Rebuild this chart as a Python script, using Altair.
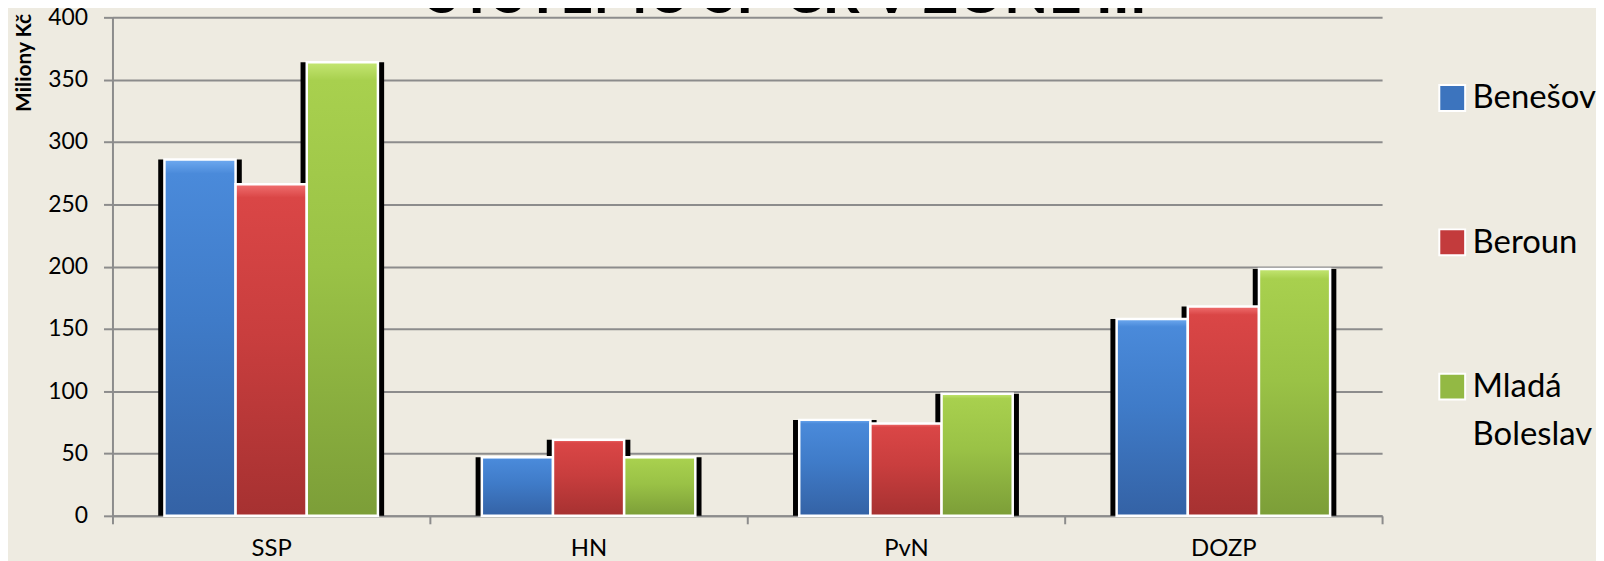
import altair as alt
import pandas as pd

# ---- data ----
categories = ["SSP", "HN", "PvN", "DOZP"]
series = ["Benešov", "Beroun", "Mladá Boleslav"]
benesov = [286, 47, 77, 158]
beroun = [266, 61, 74, 168]
mlada_boleslav = [364, 47, 98, 198]
y_ticks = [0, 50, 100, 150, 200, 250, 300, 350, 400]
title_text = "SYSTÉMU SP ČR V ZÓNĚ III"
y_title = "Miliony Kč"

legend_colors = ["#3C74BE", "#C33B3C", "#93B944"]
face_stops = {
    "Benešov": ["#6FAAF0", "#4A8ADA", "#3F7BC8", "#3462A5"],
    "Beroun": ["#F07070", "#DA4646", "#C93E3E", "#A63131"],
    "Mladá Boleslav": ["#C4E673", "#A8D04E", "#9AC246", "#7C9E38"],
}

rows = []
for i, c in enumerate(categories):
    for s, vals in zip(series, [benesov, beroun, mlada_boleslav]):
        rows.append({"kat": c, "okres": s, "hodnota": vals[i]})
df = pd.DataFrame(rows)

GRAY = "#8C8C8C"
FONT = "Lato"

x_enc = alt.X(
    "kat:N",
    sort=categories,
    title=None,
    scale=alt.Scale(paddingInner=0, paddingOuter=0),
    axis=alt.Axis(
        tickBand="extent",
        labelAngle=0,
        labelFont=FONT,
        labelFontSize=24,
        labelColor="black",
        labelPadding=13,
        tickSize=8,
        tickColor=GRAY,
        tickWidth=2,
        domainColor=GRAY,
        domainWidth=2,
        grid=False,
    ),
)
xo_enc = alt.XOffset(
    "okres:N",
    sort=series,
    scale=alt.Scale(domain=series, paddingInner=0, paddingOuter=0.73),
)
y_enc = alt.Y(
    "hodnota:Q",
    scale=alt.Scale(domain=[0, 400], nice=False),
    axis=alt.Axis(
        values=y_ticks,
        title=y_title,
        titleFont=FONT,
        titleFontSize=21,
        titleFontWeight="bold",
        titleColor="black",
        titleAngle=270,
        titleAlign="right",
        titleBaseline="middle",
        titleX=-88,
        titleY=-4,
        labelFont=FONT,
        labelFontSize=23,
        labelColor="black",
        labelPadding=16,
        tickSize=9,
        tickColor=GRAY,
        tickWidth=2,
        domainColor=GRAY,
        domainWidth=2,
        grid=True,
        gridColor=GRAY,
        gridWidth=2,
    ),
)

base = alt.Chart(df)

# hidden layer carrying the legend (covered by shadows and faces)
legend_layer = base.mark_bar().encode(
    x=x_enc,
    xOffset=xo_enc,
    y=y_enc,
    color=alt.Color(
        "okres:N",
        sort=series,
        scale=alt.Scale(domain=series, range=legend_colors),
        legend=alt.Legend(
            title=None,
            orient="none",
            legendX=1330,
            legendY=75,
            padding=0,
            symbolType="M-1,-1.8H1V0.2H-1Z",
            symbolSize=676,
            symbolStrokeColor="white",
            symbolStrokeWidth=2,
            labelFont=FONT,
            labelFontSize=33,
            labelColor="black",
            labelLimit=0,
            labelOffset=4,
            labelBaseline="alphabetic",
            rowPadding=110,
            labelExpr="datum.label == 'Mladá Boleslav' ? ['Mladá', 'Boleslav'] : datum.label",
        ),
    ),
)

shadow = base.mark_bar(color="black", width=84, xOffset=1.7).encode(
    x=x_enc, xOffset=xo_enc, y=y_enc
)

faces = []
for s in series:
    st = face_stops[s]
    grad = alt.Gradient(
        gradient="linear",
        stops=[
            alt.GradientStop(color=st[0], offset=0),
            alt.GradientStop(color=st[1], offset=0.04),
            alt.GradientStop(color=st[2], offset=0.45),
            alt.GradientStop(color=st[3], offset=1),
        ],
        x1=0, x2=0, y1=0, y2=1,
    )
    faces.append(
        base.transform_filter(alt.datum.okres == s)
        .mark_bar(color=grad, stroke="white", strokeWidth=2.5)
        .encode(x=x_enc, xOffset=xo_enc, y=y_enc)
    )

chart = (
    alt.layer(legend_layer, shadow, *faces)
    .properties(
        width=1276,
        height=501,
        padding={"left": 105, "top": 8, "right": 215, "bottom": 44},
        autosize=alt.AutoSizeParams(type="none", contains="content"),
        title=alt.TitleParams(
            title_text,
            font=FONT,
            fontSize=58,
            fontWeight="bold",
            color="black",
            anchor="middle",
            frame="group",
            baseline="alphabetic",
            offset=-65,
            dx=40,
        ),
    )
    .configure(background="#EEEBE1", style={"guide-label": {"lineHeight": 48}})
    .configure_view(stroke=None)
)

chart.save("out.html", embed_options={"renderer": "svg", "actions": False})
